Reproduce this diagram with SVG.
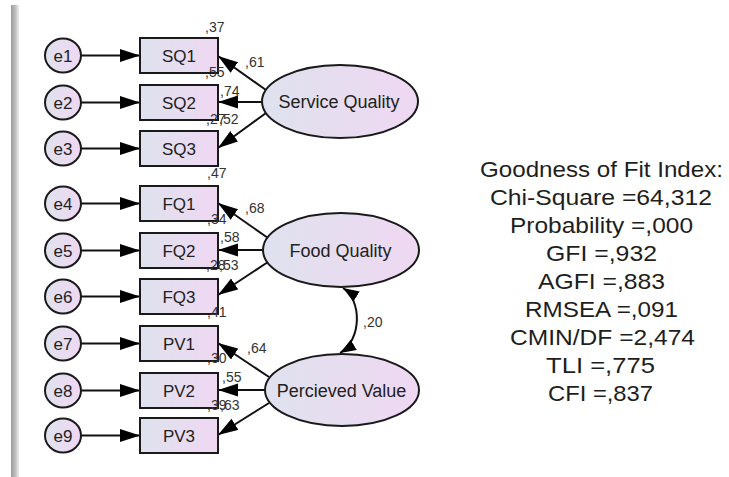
<svg xmlns="http://www.w3.org/2000/svg" width="729" height="477" viewBox="0 0 729 477">
<defs>
<linearGradient id="fill" x1="0" y1="0" x2="1" y2="0">
<stop offset="0" stop-color="#dfe2ee"/>
<stop offset="1" stop-color="#efd8f2"/>
</linearGradient>
<linearGradient id="bar" x1="0" y1="0" x2="1" y2="0">
<stop offset="0" stop-color="#9a9a9a"/>
<stop offset="0.6" stop-color="#c4c4c4"/>
<stop offset="1" stop-color="#f0f0f0"/>
</linearGradient>
<marker id="ah" markerUnits="userSpaceOnUse" markerWidth="22" markerHeight="14" refX="20" refY="6.5" orient="auto-start-reverse">
<path d="M0,0 L20,6.5 L0,13 z" fill="#000"/>
</marker>
<marker id="ahs" markerUnits="userSpaceOnUse" markerWidth="18" markerHeight="14" refX="16" refY="6" orient="auto-start-reverse">
<path d="M0,0 L16,6 L0,12 z" fill="#000"/>
</marker>
</defs>
<style>
.n{fill:url(#fill);stroke:#1a1a1a;stroke-width:2}
.t{font-family:"Liberation Sans",Arial,sans-serif;fill:#222;text-anchor:middle}
.lb{font-family:"Liberation Sans",Arial,sans-serif;font-size:14px;fill:#333}
.c line,.c path{stroke:#111;stroke-width:2;fill:none;marker-end:url(#ah)}
.g{font-family:"Liberation Sans",Arial,sans-serif;font-size:22px;fill:#1e1e1e;text-anchor:middle}
</style>
<rect width="729" height="477" fill="#fff"/>
<rect x="11" y="5" width="8" height="472" fill="url(#bar)"/>

<g class="c" id="connectors">
<line x1="81" y1="55.5" x2="140" y2="55.5"/>
<line x1="81" y1="102.5" x2="140" y2="102.5"/>
<line x1="81" y1="148.5" x2="140" y2="148.5"/>
<line x1="81" y1="203.5" x2="140" y2="203.5"/>
<line x1="81" y1="250.5" x2="140" y2="250.5"/>
<line x1="81" y1="296.5" x2="140" y2="296.5"/>
<line x1="81" y1="343.5" x2="140" y2="343.5"/>
<line x1="81" y1="390.5" x2="140" y2="390.5"/>
<line x1="81" y1="435.5" x2="140" y2="435.5"/>
<line x1="266" y1="90" x2="218" y2="56"/>
<line x1="263" y1="102" x2="218" y2="102"/>
<line x1="266" y1="113" x2="218" y2="148"/>
<line x1="268" y1="238" x2="218" y2="203"/>
<line x1="264" y1="250" x2="218" y2="250"/>
<line x1="268" y1="262" x2="218" y2="295"/>
<line x1="269" y1="377" x2="218" y2="343"/>
<line x1="266" y1="390" x2="218" y2="390"/>
<line x1="269" y1="403" x2="218" y2="435"/>
<path d="M343,288 C362,300 362,340 340,353" style="marker-start:url(#ahs);marker-end:url(#ahs)"/>
</g>

<g id="e1"><ellipse class="n" cx="63" cy="55.5" rx="18" ry="17"/><text class="t" x="63" y="61.5" font-size="17">e1</text></g>
<g id="e2"><ellipse class="n" cx="63" cy="102.5" rx="18" ry="17"/><text class="t" x="63" y="108.5" font-size="17">e2</text></g>
<g id="e3"><ellipse class="n" cx="63" cy="148.5" rx="18" ry="17"/><text class="t" x="63" y="154.5" font-size="17">e3</text></g>
<g id="e4"><ellipse class="n" cx="63" cy="203.5" rx="18" ry="17"/><text class="t" x="63" y="209.5" font-size="17">e4</text></g>
<g id="e5"><ellipse class="n" cx="63" cy="250.5" rx="18" ry="17"/><text class="t" x="63" y="256.5" font-size="17">e5</text></g>
<g id="e6"><ellipse class="n" cx="63" cy="296.5" rx="18" ry="17"/><text class="t" x="63" y="302.5" font-size="17">e6</text></g>
<g id="e7"><ellipse class="n" cx="63" cy="343.5" rx="18" ry="17"/><text class="t" x="63" y="349.5" font-size="17">e7</text></g>
<g id="e8"><ellipse class="n" cx="63" cy="390.5" rx="18" ry="17"/><text class="t" x="63" y="396.5" font-size="17">e8</text></g>
<g id="e9"><ellipse class="n" cx="63" cy="435.5" rx="18" ry="17"/><text class="t" x="63" y="441.5" font-size="17">e9</text></g>

<g id="SQ1"><rect class="n" x="140" y="38" width="78" height="35"/><text class="t" x="179" y="61.5" font-size="17">SQ1</text></g>
<g id="SQ2"><rect class="n" x="140" y="85" width="78" height="35"/><text class="t" x="179" y="108.5" font-size="17">SQ2</text></g>
<g id="SQ3"><rect class="n" x="140" y="131" width="78" height="35"/><text class="t" x="179" y="154.5" font-size="17">SQ3</text></g>
<g id="FQ1"><rect class="n" x="140" y="186" width="78" height="35"/><text class="t" x="179" y="209.5" font-size="17">FQ1</text></g>
<g id="FQ2"><rect class="n" x="140" y="233" width="78" height="35"/><text class="t" x="179" y="256.5" font-size="17">FQ2</text></g>
<g id="FQ3"><rect class="n" x="140" y="279" width="78" height="35"/><text class="t" x="179" y="302.5" font-size="17">FQ3</text></g>
<g id="PV1"><rect class="n" x="140" y="326" width="78" height="35"/><text class="t" x="179" y="349.5" font-size="17">PV1</text></g>
<g id="PV2"><rect class="n" x="140" y="373" width="78" height="35"/><text class="t" x="179" y="396.5" font-size="17">PV2</text></g>
<g id="PV3"><rect class="n" x="140" y="418" width="78" height="35"/><text class="t" x="179" y="441.5" font-size="17">PV3</text></g>

<g id="ServiceQuality"><ellipse class="n" cx="340" cy="101.5" rx="78" ry="36.5"/><text class="t" x="339" y="108" font-size="18">Service Quality</text></g>
<g id="FoodQuality"><ellipse class="n" cx="341" cy="250" rx="78" ry="37"/><text class="t" x="340.5" y="256.5" font-size="18">Food Quality</text></g>
<g id="PercievedValue"><ellipse class="n" cx="342" cy="390" rx="77" ry="36"/><text class="t" x="341.5" y="396.5" font-size="18">Percieved Value</text></g>

<g id="labels">
<text class="lb" x="205" y="32">,37</text>
<text class="lb" x="245" y="67">,61</text>
<text class="lb" x="205" y="77">,55</text>
<text class="lb" x="220" y="96">,74</text>
<text class="lb" x="206" y="124">,27</text>
<text class="lb" x="219" y="124">,52</text>
<text class="lb" x="207" y="178">,47</text>
<text class="lb" x="245" y="213">,68</text>
<text class="lb" x="207" y="224">,34</text>
<text class="lb" x="220" y="242">,58</text>
<text class="lb" x="206" y="270">,28</text>
<text class="lb" x="219" y="270">,53</text>
<text class="lb" x="207" y="317">,41</text>
<text class="lb" x="247" y="353">,64</text>
<text class="lb" x="207" y="363">,30</text>
<text class="lb" x="222" y="382">,55</text>
<text class="lb" x="207" y="410">,39</text>
<text class="lb" x="220" y="410">,63</text>
<text class="lb" x="363" y="327">,20</text>
</g>

<g id="fit">
<text class="g" x="601.5" y="177" textLength="243" lengthAdjust="spacingAndGlyphs">Goodness of Fit Index:</text>
<text class="g" x="601" y="205" textLength="222" lengthAdjust="spacingAndGlyphs">Chi-Square =64,312</text>
<text class="g" x="601.5" y="233" textLength="183" lengthAdjust="spacingAndGlyphs">Probability =,000</text>
<text class="g" x="601.5" y="261" textLength="111" lengthAdjust="spacingAndGlyphs">GFI =,932</text>
<text class="g" x="601.5" y="289" textLength="127" lengthAdjust="spacingAndGlyphs">AGFI =,883</text>
<text class="g" x="601.5" y="317" textLength="153" lengthAdjust="spacingAndGlyphs">RMSEA =,091</text>
<text class="g" x="602.5" y="345" textLength="185" lengthAdjust="spacingAndGlyphs">CMIN/DF =2,474</text>
<text class="g" x="600.5" y="373" textLength="109" lengthAdjust="spacingAndGlyphs">TLI =,775</text>
<text class="g" x="600.5" y="401" textLength="105" lengthAdjust="spacingAndGlyphs">CFI =,837</text>
</g>
</svg>
